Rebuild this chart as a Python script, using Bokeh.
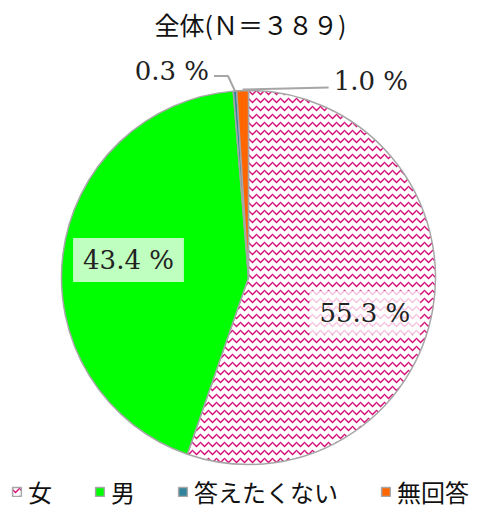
import numpy as np
from bokeh.plotting import figure
from bokeh.models import ColumnDataSource, Range1d, Legend, LegendItem
from bokeh.core.properties import value
from bokeh.embed import file_html
from bokeh.resources import INLINE

# ---- data ----
categories = ["女", "男", "答えたくない", "無回答"]
percents = [55.3, 43.4, 0.3, 1.0]
label_texts = ["55.3 %", "43.4 %", "0.3 %", "1.0 %"]
colors = ["#FFFFFF", "#00FF00", "#31849B", "#FF6600"]
hatches = ["horizontal_wave", " ", " ", " "]
title_text = "全体(Ｎ＝３８９)"

# ---- layout ----
W, H = 473, 509
CX, CY, R = 248, 232, 187
JP = "Noto Sans CJK JP"
SERIF = "DejaVu Serif"
EDGE = "#A6A6A6"

p = figure(width=W, height=H, x_range=Range1d(0, W), y_range=Range1d(0, H),
           output_backend="svg", toolbar_location=None, min_border=0)
p.axis.visible = False
p.grid.visible = False
p.outline_line_color = None
p.background_fill_color = "white"

frac = np.array(percents) / sum(percents)
cum = np.concatenate([[0], np.cumsum(frac)])
start = np.pi / 2 - 2 * np.pi * cum[:-1]
end = np.pi / 2 - 2 * np.pi * cum[1:]
mid = (start + end) / 2

src = ColumnDataSource(dict(cat=categories, start=start, end=end, color=colors,
                            hatch=hatches, x=[CX] * 4, y=[CY] * 4))
wr = p.wedge(x="x", y="y", radius=R, start_angle="start", end_angle="end",
             direction="clock", source=src, fill_color="color",
             line_color=EDGE, line_width=1.5,
             hatch_pattern="hatch", hatch_color="#D6107A", hatch_scale=8,
             hatch_weight=1.4)

# inside labels for big slices (radial position + small layout nudges)
k = 0.62
nudge_x = [2, -5]
nudge_y = [-16, 3]
inx = [CX + k * R * np.cos(mid[i]) + nudge_x[i] for i in (0, 1)]
iny = [CY + k * R * np.sin(mid[i]) + nudge_y[i] for i in (0, 1)]
p.text(x=inx, y=iny, text=[label_texts[0], label_texts[1]],
       text_font=value(SERIF), text_font_size="26px", text_color="#222222",
       text_align="center", text_baseline="middle",
       background_fill_color="white", background_fill_alpha=0.75,
       padding=[10, 7])

# outside labels with leader lines for small slices
# 答えたくない
a = mid[2]
px0, py0 = CX + R * np.cos(a), CY + R * np.sin(a)
p.line(x=[px0, px0 - 7, px0 - 21], y=[py0, py0 + 15, py0 + 15],
       line_color=EDGE, line_width=2)
p.text(x=[px0 - 26], y=[py0 + 20], text=[label_texts[2]],
       text_font=value(SERIF), text_font_size="26px", text_color="#222222",
       text_align="right", text_baseline="middle")
# 無回答
a = mid[3]
qx0, qy0 = CX + R * np.cos(a), CY + R * np.sin(a)
p.line(x=[qx0, qx0 + 86], y=[qy0 + 1, qy0 + 3],
       line_color=EDGE, line_width=2)
p.text(x=[qx0 + 91], y=[qy0 + 10], text=[label_texts[3]],
       text_font=value(SERIF), text_font_size="26px", text_color="#222222",
       text_align="left", text_baseline="middle")

# title
p.text(x=[250], y=[H - 23], text=[title_text], text_font=value(JP),
       text_font_size="25px", text_color="#111111",
       text_align="center", text_baseline="middle", text_line_height=1.0)

# legend
items = [LegendItem(label=c, renderers=[wr], index=i) for i, c in enumerate(categories)]
legend = Legend(items=items, orientation="horizontal", location=(11, 0),
                glyph_width=11, glyph_height=11, label_standoff=6, spacing=42,
                padding=0, margin=0, border_line_color=None,
                background_fill_alpha=0, label_text_font=JP,
                label_text_font_size="24px", label_text_color="#111111")
p.add_layout(legend)

open("out.html", "w").write(file_html(p, INLINE))
